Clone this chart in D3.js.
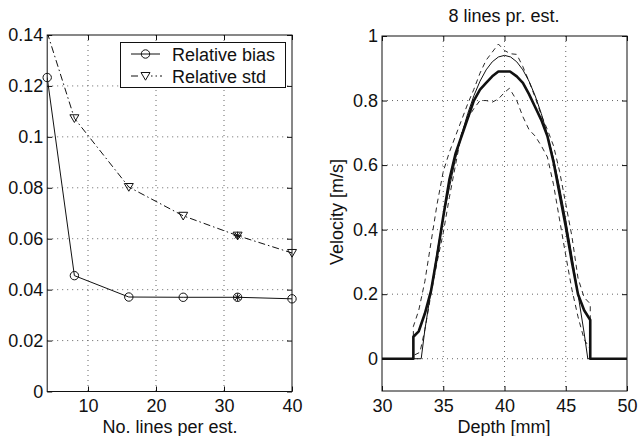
<!DOCTYPE html>
<html>
<head>
<meta charset="utf-8">
<script src="https://cdn.jsdelivr.net/npm/d3@7/dist/d3.min.js"></script>
<style>
  body { margin: 0; background: #fff; }
  svg { display: block; font-family: "Liberation Sans", Arial, sans-serif; }
</style>
</head>
<body>
<div id="viz"></div>
<script>
/*##############################
#   Left panel data            #
###############################*/
const linesPerEst = [4, 8, 16, 24, 32, 40];
const relBias = [0.1233, 0.0455, 0.0371, 0.0370, 0.0370, 0.0364];
const relStd = [0.141, 0.1073, 0.0803, 0.0690, 0.0612, 0.0544];
const starredLines = [32];   // points also marked with '*'
const leftXTicks = [10, 20, 30, 40];
const leftYTicks = [0, 0.02, 0.04, 0.06, 0.08, 0.1, 0.12, 0.14];
const legendNames = ["Relative bias", "Relative std"];

/*##############################
#   Right panel data           #
###############################*/
const trueDepth = [30, 33.2, 33.5, 34, 34.5, 35, 35.5, 36, 36.5, 37, 37.5, 38, 38.5, 39, 39.5, 40,
                   40.5, 41, 41.5, 42, 42.5, 43, 43.5, 44, 44.5, 45, 45.5, 46, 46.5, 46.8, 50];
const trueVel = [0, 0, 0.09, 0.21, 0.33, 0.44, 0.53, 0.62, 0.695, 0.76, 0.815, 0.86, 0.895, 0.92, 0.935, 0.94,
                 0.935, 0.92, 0.895, 0.86, 0.815, 0.76, 0.695, 0.62, 0.53, 0.43, 0.32, 0.2, 0.08, 0, 0];

const meanDepth = [30, 32.56, 32.56, 33, 33.5, 34, 34.5, 35, 35.5, 36, 36.5, 37, 37.5, 38, 38.5, 39, 39.5, 40,
                   40.45, 41, 41.5, 42, 42.5, 43, 43.5, 44, 44.5, 45, 45.5, 46, 46.5, 47, 47, 50];
const meanVel = [0, 0, 0.068, 0.085, 0.14, 0.21, 0.32, 0.44, 0.555, 0.635, 0.69, 0.745, 0.8, 0.834, 0.855, 0.875, 0.89, 0.89,
                 0.89, 0.875, 0.855, 0.82, 0.78, 0.74, 0.69, 0.61, 0.51, 0.41, 0.3, 0.2, 0.15, 0.12, 0, 0];

const upperDepth = [30, 32.56, 32.56, 33, 33.5, 34, 34.5, 35, 35.5, 36, 36.5, 37, 37.5, 38, 38.5, 39, 39.5, 40,
                    40.5, 41, 41.5, 42, 42.5, 43, 43.5, 44, 44.5, 45, 45.5, 46, 46.5, 47, 47, 50];
const upperVel = [0, 0, 0.1, 0.15, 0.24, 0.36, 0.48, 0.58, 0.64, 0.69, 0.74, 0.79, 0.835, 0.885, 0.925, 0.95, 0.975, 0.955,
                  0.945, 0.943, 0.905, 0.86, 0.81, 0.755, 0.71, 0.66, 0.58, 0.48, 0.38, 0.25, 0.19, 0.17, 0, 0];

const lowerDepth = [30, 32.56, 32.56, 33.1, 33.5, 34, 34.5, 35, 35.5, 36, 36.5, 37, 37.5, 38, 38.5, 39, 39.5, 40,
                    40.4, 41, 41.5, 42, 42.5, 43, 43.5, 44, 44.5, 45, 45.5, 46, 46.5, 47, 47, 50];
const lowerVel = [0, 0, 0.01, 0.02, 0.09, 0.2, 0.3, 0.39, 0.5, 0.6, 0.7, 0.745, 0.775, 0.8, 0.8, 0.795, 0.805, 0.825,
                  0.838, 0.8, 0.75, 0.71, 0.69, 0.66, 0.625, 0.54, 0.43, 0.32, 0.215, 0.13, 0.06, 0.03, 0, 0];

const rightXTicks = [30, 35, 40, 45, 50];
const rightYTicks = [0, 0.2, 0.4, 0.6, 0.8, 1];

/*##############################
#   Setup                      #
###############################*/
const svg = d3.select("#viz").append("svg")
  .attr("width", 638)
  .attr("height", 436)
  .style("background", "#fff");

const ink = "#111";

// Left panel scales
const xL = d3.scaleLinear().domain([4, 40]).range([47.2, 292]);
const yL = d3.scaleLinear().domain([0, 0.14]).range([391.5, 35]);
// Right panel scales
const xR = d3.scaleLinear().domain([30, 50]).range([382, 627]);
const yR = d3.scaleLinear().domain([-0.1, 1]).range([391, 36]);

function fmt(d) { return String(d); }

// draws grid, inward ticks on all four sides, tick labels and the box
function drawFrame(x, y, xTicks, yTicks, id) {
  const [x0, x1] = x.range();
  const [y0, y1] = y.range();
  const g = svg.append("g");

  // dotted grid
  const xg = xTicks.filter(t => x(t) > x0 + 1 && x(t) < x1 - 1);
  const yg = yTicks.filter(t => y(t) < y0 - 1 && y(t) > y1 + 1);
  g.selectAll(".gx").data(xg).enter().append("line")
    .attr("x1", d => x(d)).attr("x2", d => x(d))
    .attr("y1", y1).attr("y2", y0)
    .attr("stroke", "#666").attr("stroke-width", 1).attr("stroke-dasharray", "1,4");
  g.selectAll(".gy").data(yg).enter().append("line")
    .attr("x1", x0).attr("x2", x1)
    .attr("y1", d => y(d)).attr("y2", d => y(d))
    .attr("stroke", "#666").attr("stroke-width", 1).attr("stroke-dasharray", "1,4");

  const bottom = g.append("g").attr("transform", "translate(0," + y0 + ")")
    .call(d3.axisBottom(x).tickValues(xTicks).tickSize(-5).tickPadding(8).tickFormat(fmt));
  const left = g.append("g").attr("transform", "translate(" + x0 + ",0)")
    .call(d3.axisLeft(y).tickValues(yTicks).tickSize(-5).tickPadding(4).tickFormat(fmt));
  const top = g.append("g").attr("transform", "translate(0," + y1 + ")")
    .call(d3.axisTop(x).tickValues(xTicks).tickSize(-5).tickFormat(""));
  const right = g.append("g").attr("transform", "translate(" + x1 + ",0)")
    .call(d3.axisRight(y).tickValues(yTicks).tickSize(-5).tickFormat(""));

  [bottom, left, top, right].forEach(a => {
    a.select(".domain").remove();
    a.selectAll("line").attr("stroke", ink);
    a.selectAll("text").attr("fill", ink).style("font-size", "18px")
      .style("font-family", "'Liberation Sans', Arial, sans-serif");
  });

  g.append("rect")
    .attr("x", x0).attr("y", y1)
    .attr("width", x1 - x0).attr("height", y0 - y1)
    .attr("fill", "none").attr("stroke", ink).attr("stroke-width", 1);

  svg.append("clipPath").attr("id", id)
    .append("rect").attr("x", x0).attr("y", y1).attr("width", x1 - x0).attr("height", y0 - y1);
  return g;
}

/*##############################
#   Left panel                 #
###############################*/
drawFrame(xL, yL, leftXTicks, leftYTicks, "clipL");

const lineL = d3.line().x(d => xL(d[0])).y(d => yL(d[1]));
const biasPts = linesPerEst.map((v, i) => [v, relBias[i]]);
const stdPts = linesPerEst.map((v, i) => [v, relStd[i]]);

svg.append("path").datum(biasPts)
  .attr("clip-path", "url(#clipL)")
  .attr("d", lineL).attr("fill", "none").attr("stroke", ink).attr("stroke-width", 1);
svg.append("path").datum(stdPts)
  .attr("clip-path", "url(#clipL)")
  .attr("d", lineL).attr("fill", "none").attr("stroke", ink).attr("stroke-width", 1)
  .attr("stroke-dasharray", "7,3,1.5,3");

function circleMark(g, cx, cy) {
  g.append("circle").attr("cx", cx).attr("cy", cy).attr("r", 4.2)
    .attr("fill", "none").attr("stroke", ink).attr("stroke-width", 1);
}
function triMark(g, cx, cy) {
  g.append("path")
    .attr("d", "M" + (cx - 4.5) + "," + (cy - 3.5) + "L" + (cx + 4.5) + "," + (cy - 3.5) + "L" + cx + "," + (cy + 4.2) + "Z")
    .attr("fill", "none").attr("stroke", ink).attr("stroke-width", 1);
}
function starMark(g, cx, cy) {
  const s = 4;
  g.append("path")
    .attr("d", "M" + (cx - s) + "," + cy + "H" + (cx + s) +
               "M" + cx + "," + (cy - s) + "V" + (cy + s) +
               "M" + (cx - s * 0.7) + "," + (cy - s * 0.7) + "L" + (cx + s * 0.7) + "," + (cy + s * 0.7) +
               "M" + (cx - s * 0.7) + "," + (cy + s * 0.7) + "L" + (cx + s * 0.7) + "," + (cy - s * 0.7))
    .attr("fill", "none").attr("stroke", ink).attr("stroke-width", 1);
}

const marks = svg.append("g");
biasPts.forEach(p => {
  if (p[1] <= 0.14) circleMark(marks, xL(p[0]), yL(p[1]));
  if (starredLines.includes(p[0])) starMark(marks, xL(p[0]), yL(p[1]));
});
stdPts.forEach(p => {
  if (p[1] <= 0.14) triMark(marks, xL(p[0]), yL(p[1]));
  if (starredLines.includes(p[0])) starMark(marks, xL(p[0]), yL(p[1]));
});

// x label
svg.append("text")
  .attr("x", 170).attr("y", 433)
  .attr("text-anchor", "middle")
  .attr("fill", ink).style("font-size", "18px")
  .text("No. lines per est.");

// legend
const leg = svg.append("g");
leg.append("rect").attr("x", 120.5).attr("y", 42.5).attr("width", 165).attr("height", 45)
  .attr("fill", "#fff").attr("stroke", ink).attr("stroke-width", 1);
const legRows = [54, 76];
leg.append("line").attr("x1", 131).attr("x2", 160).attr("y1", legRows[0]).attr("y2", legRows[0])
  .attr("stroke", ink).attr("stroke-width", 1);
circleMark(leg, 145.5, legRows[0]);
leg.append("line").attr("x1", 131).attr("x2", 162).attr("y1", legRows[1]).attr("y2", legRows[1])
  .attr("stroke", ink).attr("stroke-width", 1).attr("stroke-dasharray", "7,3,1.5,3");
leg.append("rect").attr("x", 140).attr("y", legRows[1] - 5).attr("width", 11).attr("height", 10).attr("fill", "#fff");
triMark(leg, 145.5, legRows[1]);
legendNames.forEach((n, i) => {
  leg.append("text").attr("x", 172).attr("y", legRows[i] + 6.5)
    .attr("fill", ink).style("font-size", "18px").text(n);
});

/*##############################
#   Right panel                #
###############################*/
drawFrame(xR, yR, rightXTicks, rightYTicks, "clipR");

const lineR = d3.line().x(d => xR(d[0])).y(d => yR(d[1]));
function pts(dep, vel) { return dep.map((d, i) => [d, vel[i]]); }

const curves = [
  { data: pts(upperDepth, upperVel), w: 0.9, dash: "5,4" },
  { data: pts(lowerDepth, lowerVel), w: 0.9, dash: "5,4" },
  { data: pts(trueDepth, trueVel), w: 1, dash: null },
  { data: pts(meanDepth, meanVel), w: 2.6, dash: null }
];
curves.forEach(c => {
  svg.append("path").datum(c.data)
    .attr("clip-path", "url(#clipR)")
    .attr("d", lineR)
    .attr("fill", "none")
    .attr("stroke", ink)
    .attr("stroke-width", c.w)
    .attr("stroke-linejoin", "round")
    .attr("stroke-dasharray", c.dash);
});

svg.append("text")
  .attr("x", 504).attr("y", 22)
  .attr("text-anchor", "middle")
  .attr("fill", ink).style("font-size", "18px")
  .text("8 lines pr. est.");

svg.append("text")
  .attr("x", 504).attr("y", 433)
  .attr("text-anchor", "middle")
  .attr("fill", ink).style("font-size", "18px")
  .text("Depth [mm]");

svg.append("text")
  .attr("transform", "translate(343,212) rotate(-90)")
  .attr("text-anchor", "middle")
  .attr("fill", ink).style("font-size", "18px")
  .text("Velocity [m/s]");
</script>
</body>
</html>
